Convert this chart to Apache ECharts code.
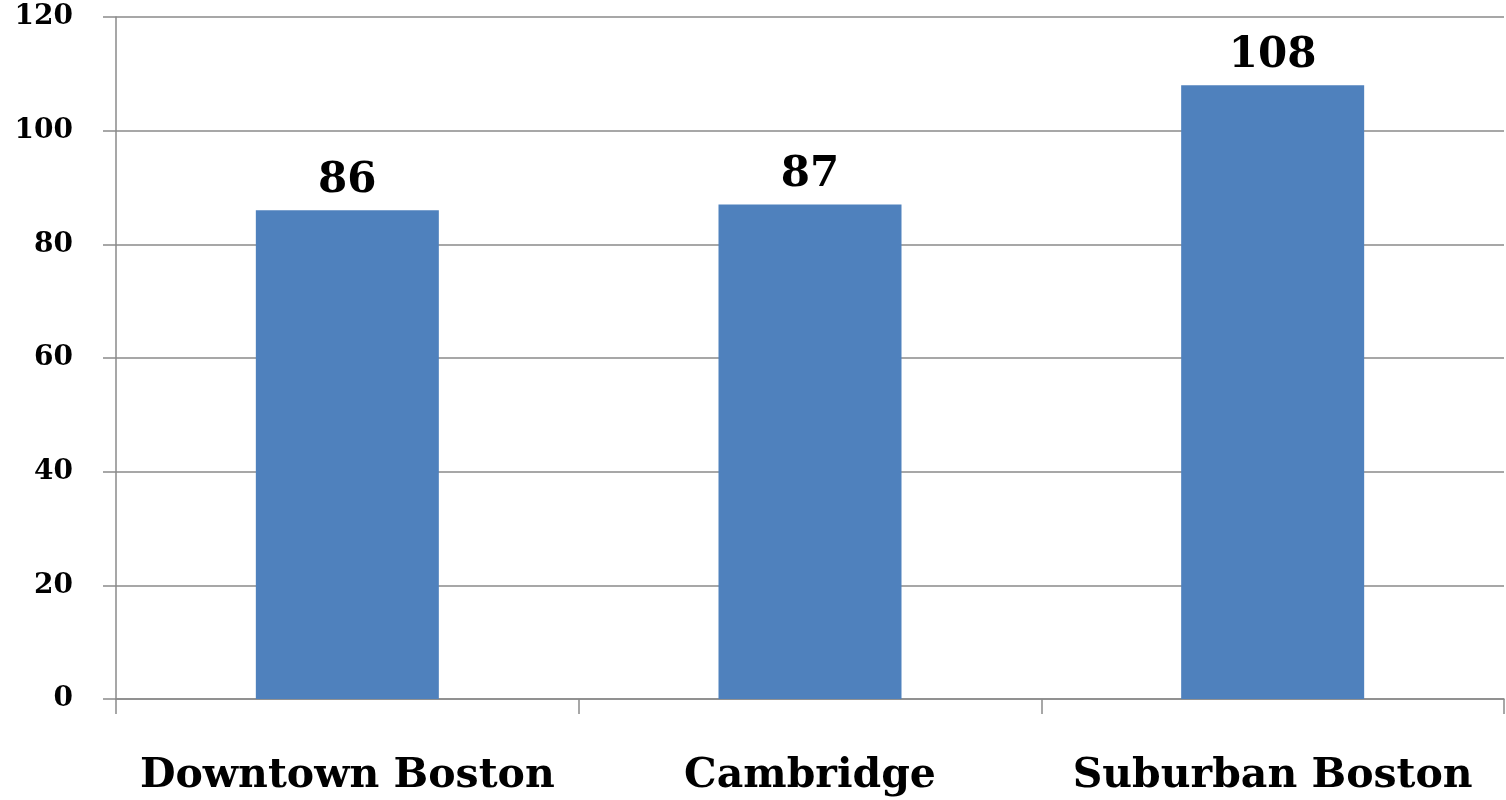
<!DOCTYPE html>
<html>
<head>
<meta charset="utf-8">
<script src="https://cdn.jsdelivr.net/npm/echarts@6/dist/echarts.min.js"></script>
<style>
html,body{margin:0;padding:0;background:#fff;}
#chart{width:1506px;height:800px;}
</style>
</head>
<body>
<div id="chart"></div>
<script>
// 类目与数值
var categories = ['Downtown Boston', 'Cambridge', 'Suburban Boston'];
var values = [86, 87, 108];
var yTicks = [0, 20, 40, 60, 80, 100, 120];

var serif = 'DejaVu Serif';
var lineColor = '#8a8a8a';

var option = {
	backgroundColor: '#fff',
	animation: false,
	grid: {
		left: 116,
		right: 2,
		top: 17,
		bottom: 101,
		containLabel: false
	},
	xAxis: {
		type: 'category',
		data: categories,
		axisLine: {
			lineStyle: { color: lineColor, width: 1.5 }
		},
		axisTick: {
			show: true,
			interval: 0,
			length: 15,
			alignWithLabel: false,
			lineStyle: { color: lineColor, width: 1.5 }
		},
		axisLabel: {
			interval: 0,
			hideOverlap: false,
			margin: 57,
			fontFamily: serif,
			fontWeight: 'bold',
			fontSize: 41,
			color: '#000'
		}
	},
	yAxis: {
		type: 'value',
		min: yTicks[0],
		max: yTicks[yTicks.length - 1],
		interval: 20,
		axisLine: {
			show: true,
			lineStyle: { color: lineColor, width: 1.5 }
		},
		axisTick: {
			show: true,
			length: 13,
			lineStyle: { color: lineColor, width: 1.5 }
		},
		splitLine: {
			show: true,
			lineStyle: { color: lineColor, width: 1.5 }
		},
		axisLabel: {
			margin: 43,
			fontFamily: serif,
			fontWeight: 'bold',
			fontSize: 28,
			color: '#000'
		}
	},
	series: [{
		type: 'bar',
		barWidth: 183,
		data: values,
		itemStyle: { color: '#4f81bd' },
		label: {
			show: true,
			position: 'top',
			distance: 8,
			fontFamily: serif,
			fontWeight: 'bold',
			fontSize: 42,
			color: '#000'
		}
	}]
};

echarts.init(document.getElementById('chart')).setOption(option);
</script>
</body>
</html>
